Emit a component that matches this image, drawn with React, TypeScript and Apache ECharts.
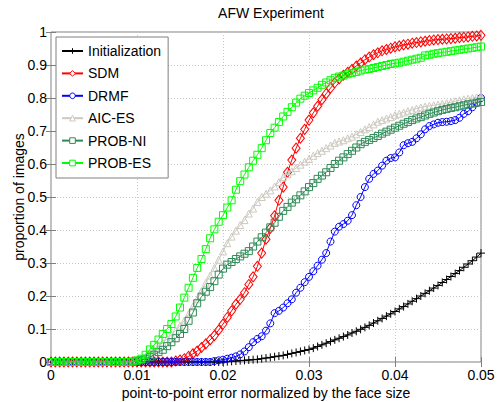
import React, { useEffect, useRef } from "react";
import * as echarts from "echarts";

const xs = [
  0, 0.0005, 0.001, 0.0015, 0.002, 0.0025, 0.003, 0.0035, 0.004, 0.0045,
  0.005, 0.0055, 0.006, 0.0065, 0.007, 0.0075, 0.008, 0.0085, 0.009, 0.0095,
  0.01, 0.0105, 0.011, 0.0115, 0.012, 0.0125, 0.013, 0.0135, 0.014, 0.0145,
  0.015, 0.0155, 0.016, 0.0165, 0.017, 0.0175, 0.018, 0.0185, 0.019, 0.0195,
  0.02, 0.0205, 0.021, 0.0215, 0.022, 0.0225, 0.023, 0.0235, 0.024, 0.0245,
  0.025, 0.0255, 0.026, 0.0265, 0.027, 0.0275, 0.028, 0.0285, 0.029, 0.0295,
  0.03, 0.0305, 0.031, 0.0315, 0.032, 0.0325, 0.033, 0.0335, 0.034, 0.0345,
  0.035, 0.0355, 0.036, 0.0365, 0.037, 0.0375, 0.038, 0.0385, 0.039, 0.0395,
  0.04, 0.0405, 0.041, 0.0415, 0.042, 0.0425, 0.043, 0.0435, 0.044, 0.0445,
  0.045, 0.0455, 0.046, 0.0465, 0.047, 0.0475, 0.048, 0.0485, 0.049, 0.0495,
  0.05,
];

const initialization = [
  0, 0, 0, 0, 0, 0, 0, 0, 0, 0,
  0, 0, 0, 0, 0, 0, 0, 0, 0, 0,
  0, 0, 0, 0, 0, 0, 0, 0, 0, 0,
  0, 0, 0, 0, 0, 0, 0, 0, 0, 0,
  0, 0.001, 0.002, 0.003, 0.004, 0.005, 0.006, 0.007, 0.008, 0.01,
  0.012, 0.014, 0.016, 0.018, 0.02, 0.023, 0.026, 0.029, 0.032, 0.035,
  0.038, 0.042, 0.047, 0.052, 0.057, 0.062, 0.067, 0.072, 0.077, 0.082,
  0.088, 0.093, 0.099, 0.105, 0.111, 0.118, 0.125, 0.132, 0.139, 0.146,
  0.153, 0.161, 0.168, 0.176, 0.184, 0.192, 0.2, 0.208, 0.216, 0.224,
  0.232, 0.241, 0.25, 0.259, 0.268, 0.277, 0.287, 0.297, 0.307, 0.318,
  0.33,
];

const sdm = [
  0, 0, 0, 0, 0, 0, 0, 0, 0, 0,
  0, 0, 0, 0, 0, 0, 0, 0, 0, 0,
  0, 0, 0, 0, 0, 0, 0, 0, 0, 0.003,
  0.006, 0.01, 0.017, 0.025, 0.033, 0.044, 0.055, 0.067, 0.08, 0.097,
  0.115, 0.135, 0.155, 0.175, 0.19, 0.21, 0.235, 0.258, 0.29, 0.33,
  0.372, 0.405, 0.443, 0.49, 0.53, 0.575, 0.612, 0.648, 0.678, 0.705,
  0.733, 0.755, 0.775, 0.795, 0.813, 0.83, 0.846, 0.858, 0.869, 0.878,
  0.887, 0.897, 0.906, 0.916, 0.924, 0.931, 0.937, 0.943, 0.947, 0.951,
  0.955, 0.958, 0.961, 0.963, 0.966, 0.968, 0.97, 0.972, 0.974, 0.976,
  0.977, 0.978, 0.979, 0.98, 0.981, 0.983, 0.984, 0.985, 0.987, 0.988,
  0.99,
];

const drmf = [
  0, 0, 0, 0, 0, 0, 0, 0, 0, 0,
  0, 0, 0, 0, 0, 0, 0, 0, 0, 0,
  0, 0, 0, 0, 0, 0, 0, 0, 0, 0,
  0, 0, 0, 0, 0, 0, 0, 0, 0.003, 0.005,
  0.007, 0.01, 0.013, 0.017, 0.023, 0.032, 0.045, 0.06, 0.07, 0.078,
  0.095, 0.117, 0.148, 0.155, 0.165, 0.178, 0.19, 0.21, 0.225, 0.242,
  0.258, 0.275, 0.292, 0.31, 0.33, 0.365, 0.395, 0.41, 0.418, 0.428,
  0.445, 0.475, 0.5, 0.53, 0.555, 0.57, 0.58, 0.595, 0.61, 0.618,
  0.62, 0.635, 0.657, 0.663, 0.667, 0.678, 0.69, 0.705, 0.715, 0.72,
  0.725, 0.727, 0.728, 0.73, 0.733, 0.74, 0.752, 0.76, 0.772, 0.785,
  0.8,
];

const aicEs = [
  0, 0, 0, 0, 0, 0, 0, 0, 0, 0,
  0, 0, 0, 0, 0, 0, 0, 0, 0, 0,
  0.003, 0.008, 0.015, 0.027, 0.038, 0.048, 0.058, 0.07, 0.082, 0.095,
  0.11, 0.125, 0.145, 0.168, 0.19, 0.215, 0.24, 0.262, 0.285, 0.31,
  0.335, 0.36, 0.38, 0.398, 0.415, 0.43, 0.45, 0.465, 0.485, 0.5,
  0.51, 0.52, 0.532, 0.545, 0.56, 0.57, 0.578, 0.588, 0.598, 0.607,
  0.615, 0.625, 0.633, 0.64, 0.648, 0.656, 0.664, 0.668, 0.672, 0.678,
  0.683, 0.69, 0.697, 0.705, 0.712, 0.72, 0.728, 0.733, 0.738, 0.742,
  0.748, 0.752, 0.756, 0.76, 0.764, 0.768, 0.771, 0.774, 0.776, 0.778,
  0.78, 0.782, 0.784, 0.787, 0.79, 0.793, 0.796, 0.798, 0.8, 0.802,
  0.804,
];

const probNi = [
  0, 0, 0, 0, 0, 0, 0, 0, 0, 0,
  0, 0, 0, 0, 0, 0, 0, 0, 0, 0,
  0.003, 0.006, 0.01, 0.015, 0.022, 0.03, 0.037, 0.048, 0.06, 0.072,
  0.085, 0.1, 0.125, 0.15, 0.178, 0.198, 0.213, 0.227, 0.245, 0.265,
  0.283, 0.295, 0.303, 0.312, 0.32, 0.328, 0.336, 0.35, 0.365, 0.378,
  0.392, 0.408, 0.422, 0.44, 0.458, 0.47, 0.483, 0.493, 0.505, 0.517,
  0.53, 0.542, 0.555, 0.565, 0.575, 0.588, 0.6, 0.61, 0.62, 0.63,
  0.64, 0.65, 0.66, 0.667, 0.673, 0.679, 0.685, 0.692, 0.698, 0.704,
  0.71, 0.716, 0.722, 0.727, 0.733, 0.738, 0.742, 0.747, 0.752, 0.756,
  0.76, 0.764, 0.767, 0.77, 0.772, 0.775, 0.778, 0.781, 0.783, 0.786,
  0.788,
];

const probEs = [
  0, 0, 0, 0, 0, 0, 0, 0, 0, 0,
  0, 0, 0, 0, 0, 0, 0, 0, 0, 0.002,
  0.005, 0.01, 0.022, 0.038, 0.052, 0.068, 0.085, 0.1, 0.115, 0.138,
  0.165, 0.195, 0.225, 0.255, 0.285, 0.312, 0.342, 0.375, 0.402, 0.425,
  0.445, 0.468, 0.49, 0.522, 0.548, 0.568, 0.59, 0.61, 0.628, 0.648,
  0.672, 0.694, 0.71, 0.727, 0.744, 0.758, 0.772, 0.786, 0.798, 0.807,
  0.815, 0.823, 0.831, 0.84, 0.847, 0.854, 0.861, 0.865, 0.868, 0.872,
  0.876, 0.879, 0.883, 0.886, 0.888, 0.891, 0.894, 0.897, 0.9, 0.903,
  0.905, 0.907, 0.91, 0.913, 0.916, 0.919, 0.922, 0.929, 0.931, 0.934,
  0.936, 0.938, 0.94, 0.942, 0.944, 0.946, 0.948, 0.95, 0.952, 0.954,
  0.956,
];

const seriesNames = ["Initialization", "SDM", "DRMF", "AIC-ES", "PROB-NI", "PROB-ES"];
const seriesValues = [initialization, sdm, drmf, aicEs, probNi, probEs];
const seriesColors = ["#000000", "#ff0000", "#0000ff", "#cdc9c0", "#2e8b57", "#00ff00"];
const seriesSymbols = [
  "path://M0,5L10,5M5,0L5,10",
  "diamond",
  "circle",
  "triangle",
  "rect",
  "rect",
];
const seriesSymbolSizes: any[] = [8, [8, 10], 7, 7, 7, 7];

const xTicks = [0, 0.01, 0.02, 0.03, 0.04, 0.05];
const FONT = "'Liberation Sans', Arial, Helvetica, sans-serif";

export default function App() {
  const ref = useRef<HTMLDivElement>(null);
  useEffect(() => {
    if (!ref.current) return;
    const chart = echarts.init(ref.current, undefined, { renderer: "svg" });
    const axisLine = { show: false };
    const series = seriesNames.map((name, k) => ({
      name,
      type: "line",
      data: xs.map((x, i) => [x, seriesValues[k][i]]),
      symbol: seriesSymbols[k],
      symbolSize: seriesSymbolSizes[k],
      showAllSymbol: true,
      silent: true,
      lineStyle: { color: seriesColors[k], width: 1 },
      itemStyle: { color: "rgba(0,0,0,0)", borderColor: seriesColors[k], borderWidth: 1 },
      emphasis: { disabled: true },
      z: 2 + k,
    }));
    chart.setOption({
      animation: false,
      backgroundColor: "#ffffff",
      textStyle: { fontFamily: FONT },
      title: {
        text: "AFW Experiment",
        left: 266,
        textAlign: "center",
        top: 1,
        textStyle: { fontSize: 14, fontWeight: "normal", color: "#000", fontFamily: FONT },
      },
      grid: {
        left: 51,
        right: 17,
        top: 32,
        bottom: 40,
        show: true,
        borderColor: "#808080",
        borderWidth: 1,
        outerBoundsMode: "none",
      },
      legend: {
        orient: "vertical",
        left: 56,
        top: 37,
        data: seriesNames.map((name) => ({ name, itemStyle: { color: "#ffffff" } })),
        backgroundColor: "#ffffff",
        borderColor: "#808080",
        borderWidth: 1,
        borderRadius: 0,
        padding: [7, 7, 8, 5],
        itemWidth: 21,
        itemHeight: 7,
        itemGap: 8.4,
        selectedMode: false,
        itemStyle: { color: "#ffffff", borderWidth: 1, borderColor: "inherit" },
        textStyle: { fontSize: 14, color: "#000", fontFamily: FONT, lineHeight: 14 },
        z: 20,
      },
      xAxis: [
        {
          type: "value",
          min: 0,
          max: 0.05,
          interval: 0.01,
          name: "point-to-point error normalized by the face size",
          nameLocation: "middle",
          nameGap: 24,
          nameMoveOverlap: false,
          nameTextStyle: { fontSize: 14, color: "#000", fontFamily: FONT },
          axisLine,
          axisTick: { show: true, inside: true, length: 5, lineStyle: { color: "#808080" } },
          axisLabel: {
            fontSize: 14,
            color: "#000",
            margin: 6,
            fontFamily: FONT,
            formatter: (v: number) => {
              const t = xTicks.find((x) => Math.abs(x - v) < 1e-9);
              return t === undefined ? "" : String(t);
            },
          },
          splitLine: { show: true, lineStyle: { color: "#c8c8c8", type: [1, 2], width: 1 } },
        },
        {
          type: "value",
          position: "top",
          min: 0,
          max: 0.05,
          interval: 0.01,
          axisLine,
          axisTick: { show: true, inside: true, length: 5, lineStyle: { color: "#808080" } },
          axisLabel: { show: false },
          splitLine: { show: false },
        },
      ],
      yAxis: [
        {
          type: "value",
          min: 0,
          max: 1,
          interval: 0.1,
          name: "proportion of images",
          nameLocation: "middle",
          nameGap: 25,
          nameMoveOverlap: false,
          nameTextStyle: { fontSize: 14, color: "#000", fontFamily: FONT },
          axisLine,
          axisTick: { show: true, inside: true, length: 5, lineStyle: { color: "#808080" } },
          axisLabel: { fontSize: 14, color: "#000", margin: 4, fontFamily: FONT },
          splitLine: { show: true, lineStyle: { color: "#c8c8c8", type: [1, 2], width: 1 } },
        },
        {
          type: "value",
          position: "right",
          min: 0,
          max: 1,
          interval: 0.1,
          axisLine,
          axisTick: { show: true, inside: true, length: 5, lineStyle: { color: "#808080" } },
          axisLabel: { show: false },
          splitLine: { show: false },
        },
      ],
      series,
    });
    return () => chart.dispose();
  }, []);
  return (
    <div
      ref={ref}
      style={{ position: "fixed", left: 0, top: 0, width: 498, height: 402, background: "#fff" }}
    />
  );
}
